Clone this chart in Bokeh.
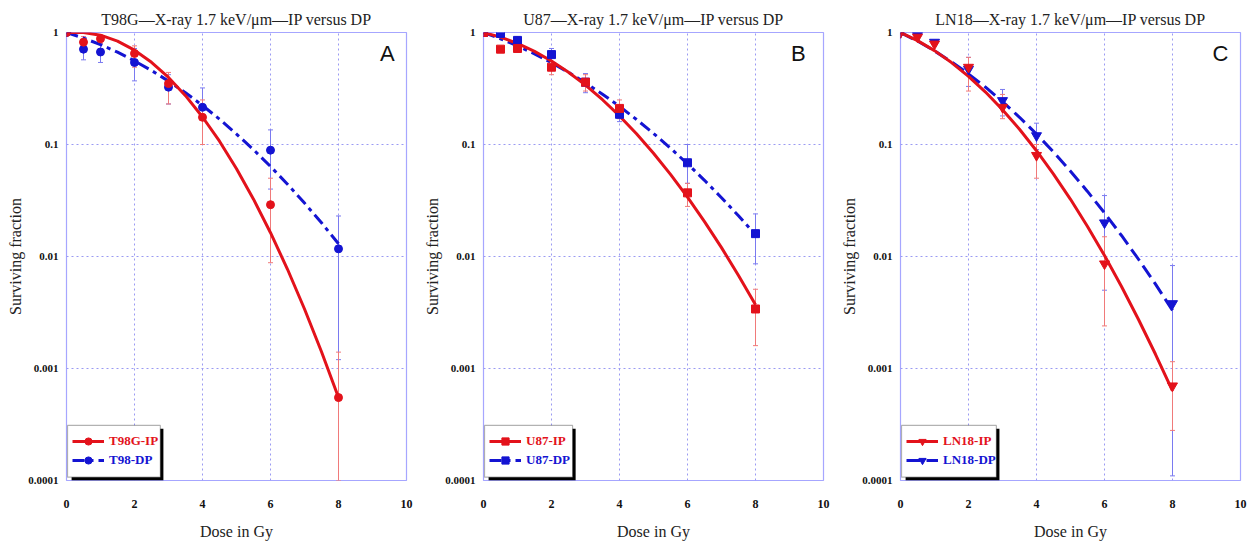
from bokeh.plotting import figure
from bokeh.models import (ColumnDataSource, Whisker, TeeHead, Legend, LegendItem,
                          FixedTicker, BoxAnnotation, Label, Range1d)
from bokeh.layouts import row
from bokeh.embed import file_html
from bokeh.resources import INLINE

# ---------------- data ----------------
dose = [0, 0.5, 1, 2, 3, 4, 6, 8]
fit_dose = [0, 0.5, 1, 1.5, 2, 2.5, 3, 3.5, 4, 4.5, 5, 5.5, 6, 6.5, 7, 7.5, 8]
x_ticks = [0, 2, 4, 6, 8, 10]
y_ticks = [0.0001, 0.001, 0.01, 0.1, 1]
y_tick_labels = ["0.0001", "0.001", "0.01", "0.1", "1"]

t98g_ip = [1.0, 0.82, 0.88, 0.65, 0.35, 0.175, 0.029, 0.00055]
t98g_ip_lo = [1.0, 0.72, 0.80, 0.49, 0.23, 0.10, 0.0088, 0.0001]
t98g_ip_hi = [1.0, 0.92, 0.95, 0.76, 0.44, 0.25, 0.05, 0.0014]
t98g_ip_fit = [1.0, 1.0, 0.946, 0.837, 0.695, 0.542, 0.397, 0.273, 0.176, 0.107,
               0.0608, 0.0325, 0.0163, 0.00769, 0.0034, 0.00141, 0.00055]

t98_dp = [1.0, 0.71, 0.67, 0.54, 0.325, 0.215, 0.089, 0.0117]
t98_dp_lo = [1.0, 0.57, 0.54, 0.37, 0.23, 0.10, 0.04, 0.0012]
t98_dp_hi = [1.0, 0.85, 0.80, 0.72, 0.42, 0.32, 0.135, 0.023]
t98_dp_fit = [1.0, 0.892, 0.779, 0.667, 0.558, 0.458, 0.368, 0.2895, 0.223, 0.1682,
              0.124, 0.0899, 0.0637, 0.0442, 0.0300, 0.0200, 0.0130]

u87_ip = [1.0, 0.71, 0.72, 0.49, 0.36, 0.21, 0.037, 0.0034]
u87_ip_lo = [1.0, 0.71, 0.72, 0.42, 0.30, 0.17, 0.028, 0.0016]
u87_ip_hi = [1.0, 0.71, 0.72, 0.55, 0.42, 0.25, 0.045, 0.0051]
u87_ip_fit = [1.0, 0.909, 0.798, 0.678, 0.557, 0.4415, 0.339, 0.251, 0.180, 0.1247,
              0.0835, 0.0541, 0.0339, 0.0205, 0.0120, 0.00677, 0.0037]

u87_dp = [1.0, 0.98, 0.85, 0.635, 0.36, 0.186, 0.0687, 0.016]
u87_dp_lo = [1.0, 0.98, 0.75, 0.55, 0.29, 0.16, 0.045, 0.0086]
u87_dp_hi = [1.0, 0.98, 0.92, 0.72, 0.43, 0.22, 0.10, 0.024]
u87_dp_fit = [1.0, 0.879, 0.760, 0.645, 0.538, 0.441, 0.355, 0.2812, 0.219, 0.1672,
              0.1256, 0.0927, 0.0672, 0.0479, 0.0335, 0.0231, 0.0156]

ln18_ip = [1.0, 0.91, 0.79, 0.49, 0.215, 0.08, 0.0086, 0.0007]
ln18_ip_lo = [1.0, 0.91, 0.79, 0.30, 0.17, 0.05, 0.0024, 0.00028]
ln18_ip_hi = [1.0, 0.91, 0.79, 0.60, 0.28, 0.10, 0.015, 0.00115]
ln18_ip_fit = [1.0, 0.8465, 0.689, 0.539, 0.406, 0.2938, 0.204, 0.1368, 0.088, 0.0544,
               0.0324, 0.01853, 0.0102, 0.00539, 0.00274, 0.00134, 0.00063]

ln18_dp = [1.0, 0.94, 0.82, 0.47, 0.247, 0.12, 0.020, 0.0038]
ln18_dp_lo = [1.0, 0.94, 0.82, 0.33, 0.18, 0.09, 0.005, 0.00011]
ln18_dp_hi = [1.0, 0.94, 0.82, 0.60, 0.31, 0.155, 0.035, 0.0083]
ln18_dp_fit = [1.0, 0.838, 0.685, 0.547, 0.427, 0.3247, 0.241, 0.1750, 0.124, 0.0857,
               0.0578, 0.0381, 0.0245, 0.0154, 0.00945, 0.00566, 0.0033]

# ---------------- style ----------------
RED = "#e3121b"
BLUE = "#1414d2"
RED_ERR = "#f07a7a"
BLUE_ERR = "#7a7af0"
GRID = "#9a9af2"
FRAME = "#a6a6ff"
SERIF = "Liberation Serif"


def add_errors(p, lo, hi, color):
    xs, ls, hs = [], [], []
    for xi, l, h in zip(dose, lo, hi):
        if h > l:
            xs.append(xi); ls.append(l); hs.append(h)
    src = ColumnDataSource(dict(x=xs, lo=ls, hi=hs))
    w = Whisker(source=src, base="x", lower="lo", upper="hi", dimension="height",
                line_color=color, line_width=1,
                upper_head=TeeHead(size=5, line_color=color, line_width=1),
                lower_head=TeeHead(size=5, line_color=color, line_width=1))
    p.add_layout(w)


def panel(title, letter, letter_x, ip, ip_lo, ip_hi, ip_fit, dp, dp_lo, dp_hi, dp_fit,
          marker, msize, ip_label, dp_label, dp_dash, box_right, border_right):
    p = figure(frame_width=340, frame_height=448, y_axis_type="log",
               x_range=Range1d(0, 10), y_range=Range1d(0.0001, 1),
               min_border_left=66, min_border_right=border_right,
               min_border_top=32, min_border_bottom=64,
               output_backend="svg", toolbar_location=None,
               background_fill_color="white", border_fill_color="white")
    p.title.text = title
    p.title.align = "center"
    p.title.text_font = SERIF
    p.title.text_font_style = "normal"
    p.title.text_font_size = "16px"
    p.title.text_color = "#222222"
    p.title.offset = 0
    p.title.standoff = 9

    p.outline_line_color = FRAME
    p.outline_line_width = 1.2

    for ax in (p.xaxis[0], p.yaxis[0]):
        ax.axis_line_color = None
        ax.major_tick_line_color = None
        ax.minor_tick_line_color = None
        ax.major_tick_out = 0
        ax.major_tick_in = 0
        ax.major_label_text_font = SERIF
        ax.major_label_text_font_style = "bold"
        ax.major_label_text_font_size = "12px"
        ax.major_label_text_color = "#111111"
        ax.axis_label_text_font = SERIF
        ax.axis_label_text_font_style = "normal"
        ax.axis_label_text_font_size = "16px"
        ax.axis_label_text_color = "#222222"

    p.xaxis[0].ticker = FixedTicker(ticks=x_ticks)
    p.xaxis[0].axis_label = "Dose in Gy"
    p.xaxis[0].major_label_standoff = 19
    p.xaxis[0].axis_label_standoff = 12
    p.yaxis[0].ticker = FixedTicker(ticks=y_ticks)
    p.yaxis[0].major_label_overrides = {t: s for t, s in zip(y_ticks, y_tick_labels)}
    p.yaxis[0].major_label_text_font_size = "11px"
    p.yaxis[0].axis_label = "Surviving fraction"
    p.yaxis[0].major_label_standoff = 8
    p.yaxis[0].axis_label_standoff = 1

    p.xgrid.ticker = FixedTicker(ticks=x_ticks[1:-1])
    p.ygrid.ticker = FixedTicker(ticks=y_ticks[1:-1])
    for g in (p.xgrid[0], p.ygrid[0]):
        g.grid_line_color = GRID
        g.grid_line_dash = "2 3"
        g.grid_line_width = 1

    add_errors(p, dp_lo, dp_hi, BLUE_ERR)
    add_errors(p, ip_lo, ip_hi, RED_ERR)

    dp_line = p.line(fit_dose, dp_fit, line_color=BLUE, line_width=3, line_dash=dp_dash)
    ip_line = p.line(fit_dose, ip_fit, line_color=RED, line_width=3)
    dp_pts = p.scatter(dose, dp, marker=marker, size=msize, fill_color=BLUE, line_color=BLUE)
    ip_pts = p.scatter(dose, ip, marker=marker, size=msize, fill_color=RED, line_color=RED)

    # legend frame with shadow
    p.add_layout(BoxAnnotation(left=0.15, right=box_right + 0.09, bottom=0.0001, top=0.00029,
                               fill_color="black", fill_alpha=1, line_color=None, level="annotation"))
    p.add_layout(BoxAnnotation(left=0.03, right=box_right, bottom=0.000107, top=0.00031,
                               fill_color="white", fill_alpha=1, line_color="black",
                               line_width=1.2, level="annotation"))

    for item_label, rends, color, ypos in ((ip_label, [ip_line, ip_pts], RED, 30),
                                            (dp_label, [dp_line, dp_pts], BLUE, 11)):
        lg = Legend(items=[LegendItem(label=item_label, renderers=rends)],
                    location=(6, ypos), padding=0, margin=0, spacing=0,
                    glyph_width=32, glyph_height=18, label_height=18,
                    label_standoff=5, border_line_color=None,
                    background_fill_alpha=0,
                    label_text_font=SERIF, label_text_font_style="bold",
                    label_text_font_size="13px", label_text_color=color)
        p.add_layout(lg)

    p.add_layout(Label(x=letter_x, y=0.65, text=letter, text_align="center",
                       text_baseline="middle", text_font="Liberation Sans",
                       text_font_size="22px", text_color="#111111"))
    return p


pa = panel("T98G\u2014X-ray 1.7 keV/\u03bcm\u2014IP versus DP", "A", 9.44,
           t98g_ip, t98g_ip_lo, t98g_ip_hi, t98g_ip_fit,
           t98_dp, t98_dp_lo, t98_dp_hi, t98_dp_fit,
           "circle", 8, "T98G-IP", "T98-DP", "12 5 4 5", 2.76, 11)
pb = panel("U87\u2014X-ray 1.7 keV/\u03bcm\u2014IP versus DP", "B", 9.26,
           u87_ip, u87_ip_lo, u87_ip_hi, u87_ip_fit,
           u87_dp, u87_dp_lo, u87_dp_hi, u87_dp_fit,
           "square", 8, "U87-IP", "U87-DP", "12 5 4 5", 2.62, 11)
pc = panel("LN18\u2014X-ray 1.7 keV/\u03bcm\u2014IP versus DP", "C", 9.41,
           ln18_ip, ln18_ip_lo, ln18_ip_hi, ln18_ip_fit,
           ln18_dp, ln18_dp_lo, ln18_dp_hi, ln18_dp_fit,
           "inverted_triangle", 10, "LN18-IP", "LN18-DP", "14 6", 2.82, 9)

layout = row(pa, pb, pc, spacing=0)
open("out.html", "w").write(file_html(layout, INLINE))
